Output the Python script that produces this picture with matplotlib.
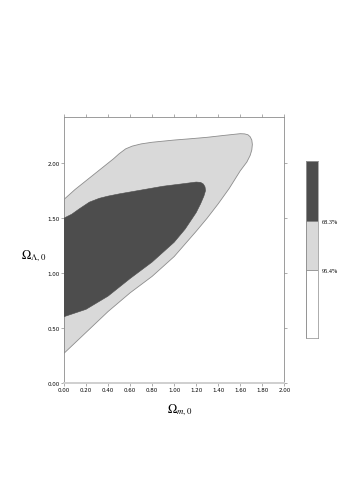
import matplotlib
matplotlib.use("Agg")
import matplotlib.pyplot as plt
import numpy as np

plt.rcParams['mathtext.fontset'] = 'stix'

# 95.4% confidence region (outer contour), (Omega_m, Omega_Lambda)
outer_om = [0.00, 0.20, 0.40, 0.60, 0.80, 1.00, 1.10, 1.20, 1.30, 1.40, 1.50, 1.60, 1.66, 1.69, 1.705, 1.71,
            1.705, 1.69, 1.67, 1.64, 1.60, 1.45, 1.30, 1.15, 1.00, 0.80, 0.70, 0.62, 0.56, 0.50,
            0.45, 0.30, 0.20, 0.10, 0.00]
outer_ol = [0.27, 0.46, 0.65, 0.82, 0.97, 1.15, 1.265, 1.38, 1.50, 1.63, 1.77, 1.93, 2.01, 2.07, 2.12, 2.17,
            2.21, 2.24, 2.258, 2.266, 2.268, 2.252, 2.235, 2.222, 2.21, 2.19, 2.175, 2.155, 2.13, 2.085,
            2.04, 1.92, 1.84, 1.76, 1.67]

# 68.3% confidence region (inner contour)
inner_om = [0.00, 0.20, 0.40, 0.60, 0.80, 1.00, 1.10, 1.20, 1.24, 1.27, 1.285, 1.28, 1.265, 1.24, 1.20,
            1.10, 0.90, 0.70, 0.50, 0.40, 0.32, 0.23, 0.14, 0.07, 0.00]
inner_ol = [0.603, 0.67, 0.79, 0.95, 1.10, 1.28, 1.40, 1.55, 1.63, 1.70, 1.75, 1.785, 1.81, 1.825, 1.828,
            1.815, 1.79, 1.755, 1.72, 1.70, 1.68, 1.645, 1.585, 1.535, 1.50]

x_ticks = [0.00, 0.20, 0.40, 0.60, 0.80, 1.00, 1.20, 1.40, 1.60, 1.80, 2.00]
y_ticks = [0.00, 0.50, 1.00, 1.50, 2.00]

# legend bar: fractions of bar height (bottom -> top) and labels at the boundaries
cbar_edges = [0.0, 0.384, 0.661, 1.0]
cbar_colors = ['white', '#d9d9d9', '#4d4d4d']
cbar_labels = ['95.4%', '68.3%']

dark = '#4d4d4d'
light = '#d9d9d9'
edge = '#8c8c8c'

fig = plt.figure(figsize=(3.49, 5.02), dpi=100)
ax = fig.add_axes([0.1834, 0.2351, 0.6312, 0.5299])

ax.fill(outer_om, outer_ol, facecolor=light, edgecolor=edge, linewidth=0.6, zorder=2)
ax.fill(inner_om, inner_ol, facecolor=dark, edgecolor=dark, linewidth=0.4, zorder=3)

ax.set_xlim(0, 2.0)
ax.set_ylim(0, 2.42)
ax.set_xticks(x_ticks)
ax.set_yticks(y_ticks)
ax.set_xticklabels([f"{v:.2f}" for v in x_ticks])
ax.set_yticklabels([f"{v:.2f}" for v in y_ticks])
ax.tick_params(direction='out', length=2.2, width=0.5, color='#8c8c8c',
               labelsize=4, pad=1, top=True, right=True)
for s in ['top', 'left', 'right']:
    ax.spines[s].set_color('#8c8c8c')
    ax.spines[s].set_linewidth(0.6)
ax.spines['bottom'].set_color('#cfcfcf')
ax.spines['bottom'].set_linewidth(1.4)

fig.text(0.095, 0.49, r'$\Omega_{\Lambda,0}$', fontsize=9, ha='center', va='center')
fig.text(0.515, 0.183, r'$\Omega_{m,0}$', fontsize=9, ha='center', va='center')

# confidence level bar
cax = fig.add_axes([0.8782, 0.3247, 0.033, 0.3526])
for lo, hi, c in zip(cbar_edges[:-1], cbar_edges[1:], cbar_colors):
    cax.axhspan(lo, hi, facecolor=c, edgecolor='#8c8c8c', linewidth=0.5)
cax.set_xlim(0, 1)
cax.set_ylim(0, 1)
cax.set_xticks([])
cax.set_yticks([])
for s in cax.spines.values():
    s.set_color('#8c8c8c')
    s.set_linewidth(0.5)
for y, lab in zip(cbar_edges[1:3], cbar_labels):
    cax.text(1.35, y, lab, transform=cax.transAxes, fontsize=4.5,
             family='Liberation Serif', ha='left', va='center')

fig.savefig("out.png", dpi=100)
